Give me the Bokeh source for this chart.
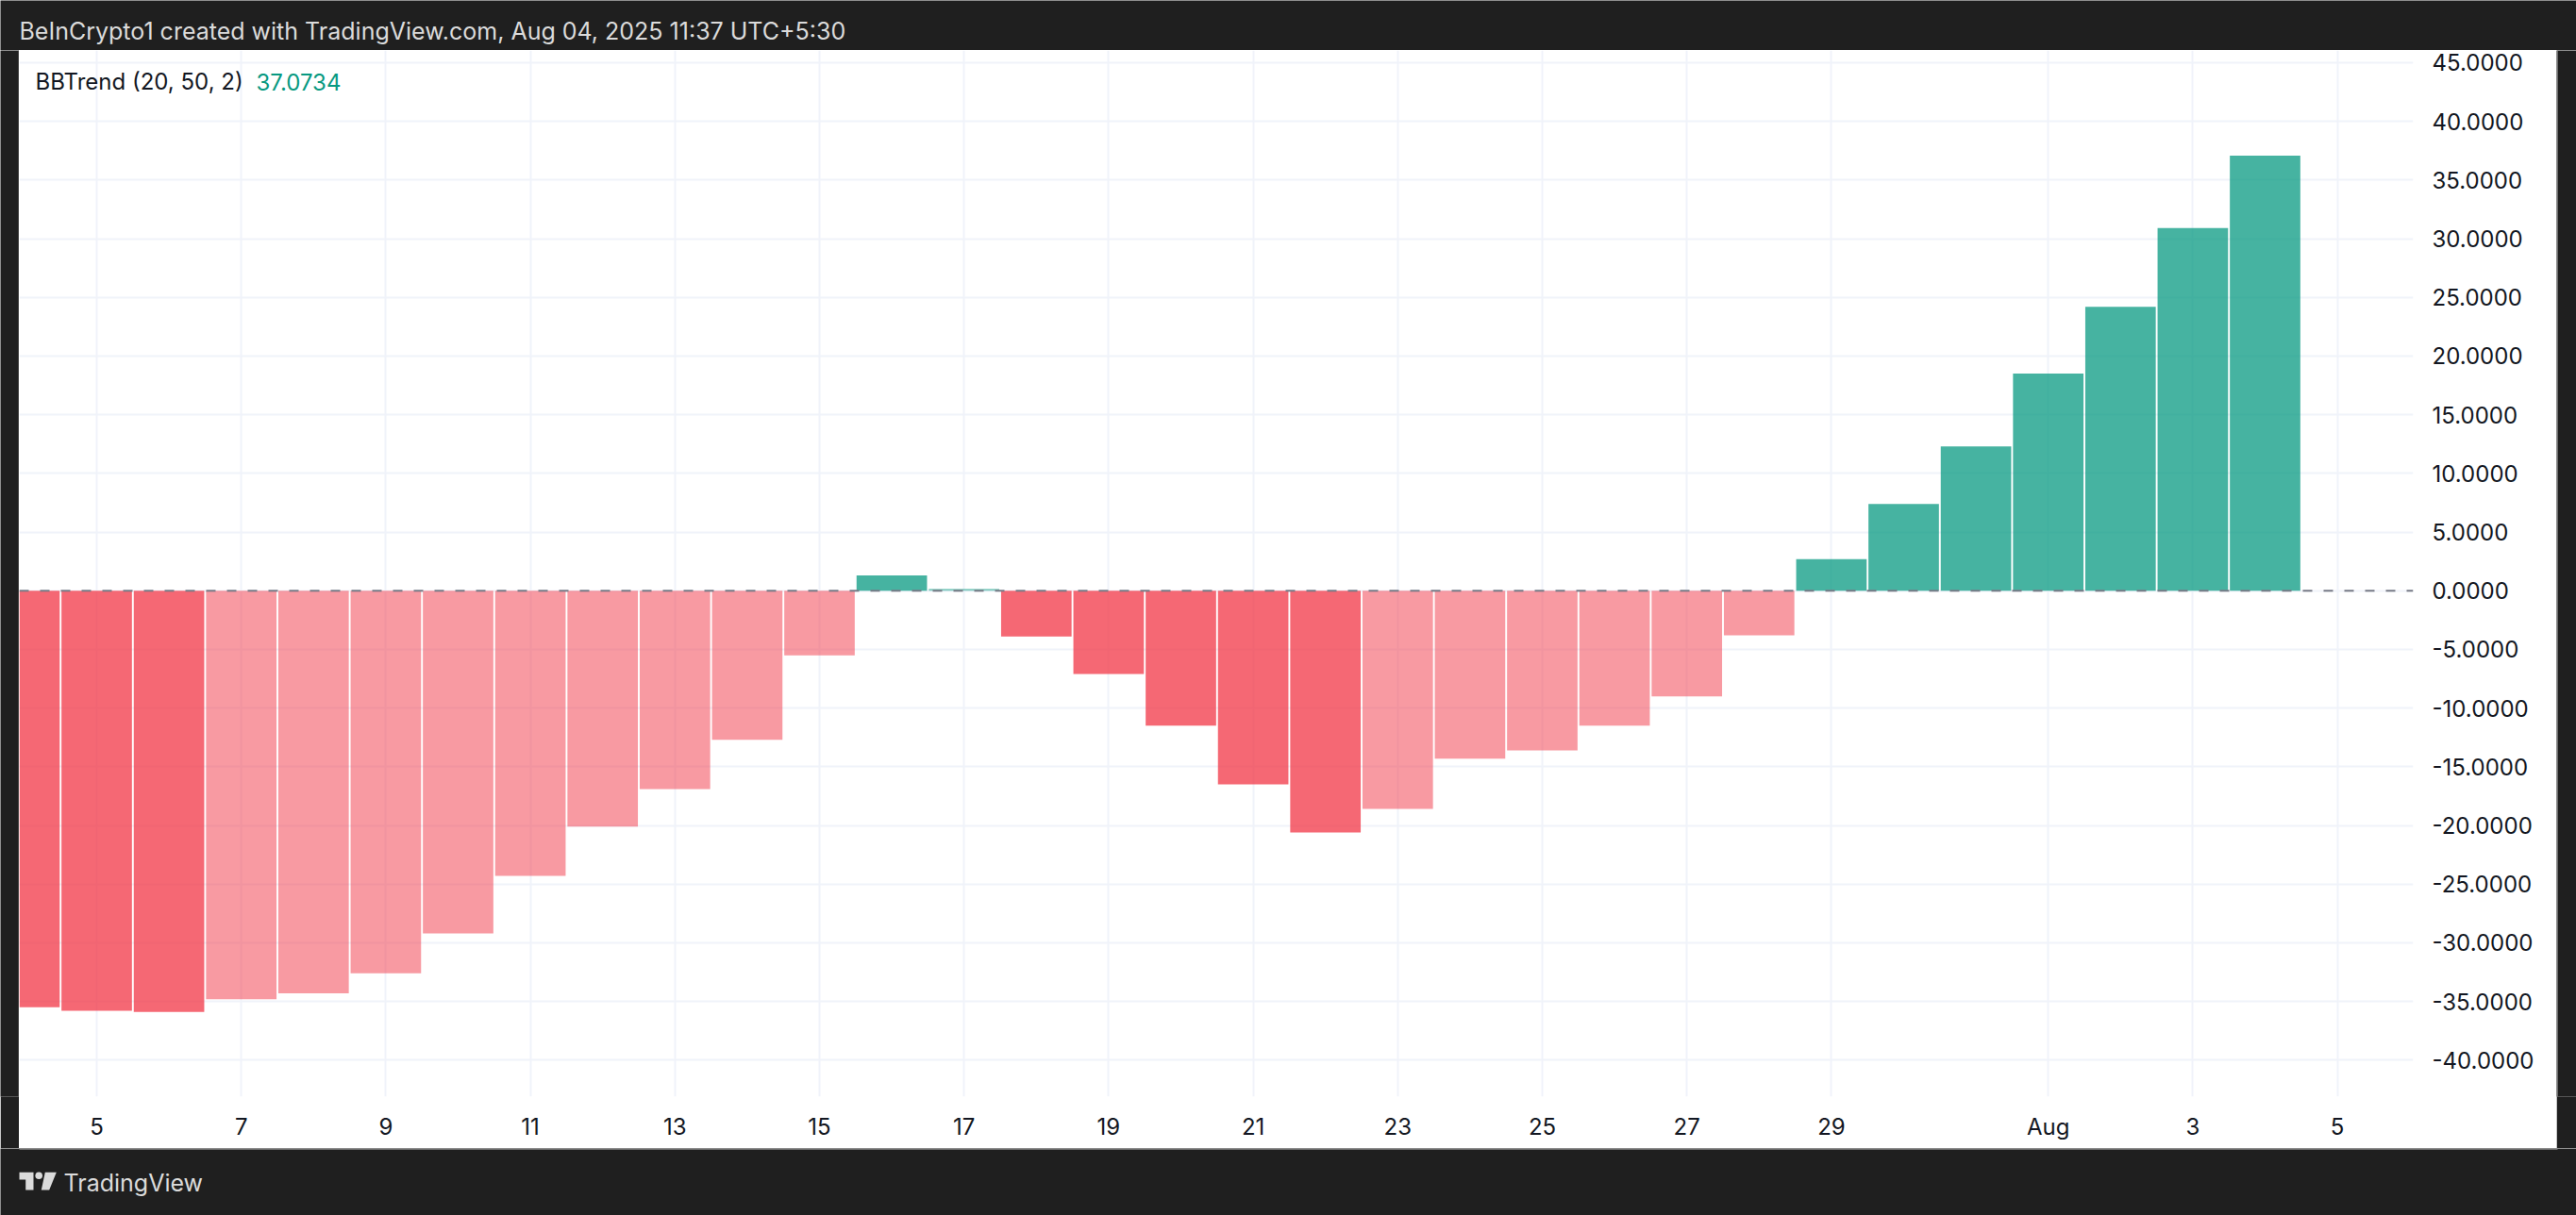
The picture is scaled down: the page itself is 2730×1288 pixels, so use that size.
from datetime import date

from bokeh.plotting import figure
from bokeh.layouts import column, row
from bokeh.models import (ColumnDataSource, FixedTicker, Span, Label, Range1d,
                          NumeralTickFormatter)
from bokeh.embed import file_html
from bokeh.resources import INLINE

# ---------------- data ----------------
dates = ["2025-07-04", "2025-07-05", "2025-07-06", "2025-07-07", "2025-07-08",
         "2025-07-09", "2025-07-10", "2025-07-11", "2025-07-12", "2025-07-13",
         "2025-07-14", "2025-07-15", "2025-07-16", "2025-07-17", "2025-07-18",
         "2025-07-19", "2025-07-20", "2025-07-21", "2025-07-22", "2025-07-23",
         "2025-07-24", "2025-07-25", "2025-07-26", "2025-07-27", "2025-07-28",
         "2025-07-29", "2025-07-30", "2025-07-31", "2025-08-01", "2025-08-02",
         "2025-08-03", "2025-08-04"]
bbtrend = [-35.5, -35.8, -35.9, -34.8, -34.3, -32.6, -29.2, -24.3, -20.1, -16.9,
           -12.7, -5.5, 1.3, 0.15, -3.9, -7.1, -11.5, -16.5, -20.6, -18.6,
           -14.3, -13.6, -11.5, -9.0, -3.8, 2.7, 7.4, 12.3, 18.5, 24.2,
           30.9, 37.0734]
prev_bbtrend = -35.0          # bar before the first visible one (sets its shade)
last_value = "37.0734"

x_tick_dates = ["2025-07-05", "2025-07-07", "2025-07-09", "2025-07-11", "2025-07-13",
                "2025-07-15", "2025-07-17", "2025-07-19", "2025-07-21", "2025-07-23",
                "2025-07-25", "2025-07-27", "2025-07-29", "2025-08-01", "2025-08-03",
                "2025-08-05"]
x_tick_labels = ["5", "7", "9", "11", "13", "15", "17", "19", "21", "23", "25", "27",
                 "29", "Aug", "3", "5"]
y_ticks = [-40, -35, -30, -25, -20, -15, -10, -5, 0, 5, 10, 15, 20, 25, 30, 35, 40, 45]

header_text = "BeInCrypto1 created with TradingView.com, Aug 04, 2025 11:37 UTC+5:30"
legend_text = "BBTrend (20, 50, 2)"

# ---------------- style ----------------
DARK = "#1f1f1f"
GRID = "#f0f3fa"
TEXT = "#131722"
TEAL = "#089981"
RED = "#f23645"
FONT = "Inter"

BASE = date(2025, 6, 30)


def day_num(s):
    return (date.fromisoformat(s) - BASE).days


xs = [day_num(d) for d in dates]
x_ticks = [day_num(d) for d in x_tick_dates]

colors, alphas = [], []
prev = prev_bbtrend
for v in bbtrend:
    if v >= 0:
        colors.append(TEAL)
        alphas.append(0.75 if v >= prev else 0.5)
    else:
        colors.append(RED)
        alphas.append(0.75 if v <= prev else 0.5)
    prev = v

src = ColumnDataSource(dict(x=xs, top=bbtrend, color=colors, alpha=alphas))

# layout sizes (page pixels)
TOTAL_W, HDR_H, MAIN_H, FTR_H = 2730, 53, 1164, 71
LEFT_W, RIGHT_W = 20, 21
MAIN_W = TOTAL_W - LEFT_W - RIGHT_W          # 2689
AXIS_R, AXIS_B = 152, 55
FRAME_W, FRAME_H = MAIN_W - AXIS_R, MAIN_H - AXIS_B

PX_DAY = 76.6
PX_UNIT = 12.44
x_left = 5 - 82 / PX_DAY
x_right = x_left + FRAME_W / PX_DAY
y_top = 46.04
y_bottom = y_top - FRAME_H / PX_UNIT

p = figure(width=MAIN_W, height=MAIN_H, output_backend="svg", toolbar_location=None,
           x_range=Range1d(x_left, x_right), y_range=Range1d(y_bottom, y_top),
           y_axis_location="right", x_axis_location="below",
           min_border_left=0, min_border_top=0, min_border_right=AXIS_R,
           min_border_bottom=AXIS_B, border_fill_color="white",
           background_fill_color="white", outline_line_color=None)

p.vbar(x="x", top="top", bottom=0, width=0.975, source=src,
       fill_color="color", fill_alpha="alpha", line_color=None)

p.add_layout(Span(location=0, dimension="width", line_color="#787b86",
                  line_width=2, line_dash="10 12"))

# axes
p.xaxis.ticker = FixedTicker(ticks=x_ticks)
p.xaxis.major_label_overrides = {t: lab for t, lab in zip(x_ticks, x_tick_labels)}
p.yaxis.ticker = FixedTicker(ticks=y_ticks)
p.yaxis.formatter = NumeralTickFormatter(format="0.0000")
for ax in (p.xaxis, p.yaxis):
    ax.axis_line_color = None
    ax.major_tick_line_color = None
    ax.minor_tick_line_color = None
    ax.major_tick_out = 0
    ax.major_tick_in = 0
    ax.minor_tick_out = 0
    ax.minor_tick_in = 0
    ax.major_label_text_font = FONT
    ax.major_label_text_font_size = "24px"
    ax.major_label_text_color = TEXT
p.yaxis.major_label_standoff = 20
p.xaxis.major_label_standoff = 17

p.xgrid.ticker = FixedTicker(ticks=x_ticks)
p.ygrid.ticker = FixedTicker(ticks=y_ticks)
p.grid.grid_line_color = GRID
p.grid.grid_line_width = 2

# indicator legend
leg_y = y_top - 33 / PX_UNIT
p.add_layout(Label(x=x_left + 17 / PX_DAY, y=leg_y, text=legend_text,
                   text_baseline="middle", text_font=FONT,
                   text_font_size="24px", text_color=TEXT))
p.add_layout(Label(x=x_left + 251 / PX_DAY, y=leg_y, text=last_value,
                   text_baseline="middle", text_font=FONT,
                   text_font_size="24px", text_color=TEAL))


def dark_fig(w, h):
    f = figure(width=w, height=h, output_backend="svg", toolbar_location=None,
               x_range=Range1d(0, w), y_range=Range1d(0, h),
               x_axis_location=None, y_axis_location=None, min_border=0,
               border_fill_color=DARK, background_fill_color=DARK,
               outline_line_color=None)
    f.grid.visible = False
    return f


hdr = dark_fig(TOTAL_W, HDR_H)
hdr.add_layout(Label(x=20, y=21, text=header_text, text_baseline="middle",
                     text_font=FONT, text_font_size="25px",
                     text_color="#dbdbdb"))

left = dark_fig(LEFT_W, MAIN_H)
left.segment(x0=[LEFT_W - 0.5], y0=[0], x1=[LEFT_W - 0.5], y1=[MAIN_H],
             line_color="#6b6b6b", line_width=1)
right = dark_fig(RIGHT_W, MAIN_H)
right.segment(x0=[0.5], y0=[0], x1=[0.5], y1=[MAIN_H], line_color="#8a8a8a",
              line_width=1.5)

ftr = dark_fig(TOTAL_W, FTR_H)
ftr.segment(x0=[LEFT_W], y0=[FTR_H - 0.5], x1=[LEFT_W + MAIN_W + 1], y1=[FTR_H - 0.5],
            line_color="#8a8a8a", line_width=1.5)
# TradingView logo
LOGO_X = [[20, 35, 35, 26.7, 26.7, 20], [47.3, 59.3, 51.7, 43.3]]
LOGO_Y = [[45.7, 45.7, 27, 27, 38, 38], [45.7, 45.7, 27, 27]]
ftr.patches(xs=LOGO_X, ys=LOGO_Y, fill_color="#dbdbdb", line_color=None)
ftr.scatter(x=[40.7], y=[42.2], size=7.6, fill_color="#dbdbdb", line_color=None)
ftr.add_layout(Label(x=67, y=35, text="TradingView", text_baseline="middle",
                     text_font=FONT, text_font_size="25px",
                     text_color="#dbdbdb"))

layout = column(hdr, row(left, p, right), ftr)

open("out.html", "w").write(file_html(layout, INLINE))
